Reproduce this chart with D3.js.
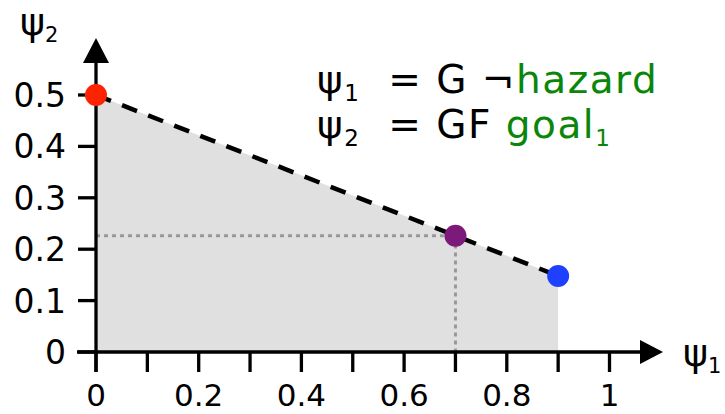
<!DOCTYPE html>
<html>
<head>
<meta charset="utf-8">
<script src="https://cdn.jsdelivr.net/npm/d3@7"></script>
<style>
  body { margin: 0; background: #fff; }
  text { font-family: "DejaVu Sans", sans-serif; }
</style>
</head>
<body>
<div id="chart"></div>
<script>
// Pareto front points (psi1, psi2)
const frontX = [0, 0.9];
const frontY = [0.5, 0.148];
const pointX = [0, 0.7, 0.9];
const pointY = [0.5, 0.226, 0.148];
const pointColors = ["#ff2200", "#7b1a7b", "#2040ff"];
const xTicks = [0, 0.1, 0.2, 0.3, 0.4, 0.5, 0.6, 0.7, 0.8, 0.9, 1];
const xTickLabels = ["0", "", "0.2", "", "0.4", "", "0.6", "", "0.8", "", "1"];
const yTicks = [0, 0.1, 0.2, 0.3, 0.4, 0.5];
const yTickLabels = ["0", "0.1", "0.2", "0.3", "0.4", "0.5"];

const width = 725, height = 414;

const svg = d3.select("#chart").append("svg")
  .attr("width", width)
  .attr("height", height);

// scales
const x = d3.scaleLinear().domain([0, 1]).range([96, 609.5]);
const y = d3.scaleLinear().domain([0, 0.5]).range([352, 95]);

// shaded achievable region
const region = [[0, 0], [frontX[0], frontY[0]], [frontX[1], frontY[1]], [frontX[1], 0]];
svg.append("path")
  .attr("d", d3.line().x(d => x(d[0])).y(d => y(d[1]))(region) + "Z")
  .attr("fill", "#e0e0e0");

// dotted guides to the purple point
svg.append("path")
  .attr("d", d3.line()([[x(0), y(pointY[1])], [x(pointX[1]), y(pointY[1])], [x(pointX[1]), y(0)]]))
  .attr("fill", "none")
  .attr("stroke", "#999")
  .attr("stroke-width", 3)
  .attr("stroke-dasharray", "4,4");

// dashed front
svg.append("line")
  .attr("x1", x(frontX[0])).attr("y1", y(frontY[0]))
  .attr("x2", x(frontX[1])).attr("y2", y(frontY[1]))
  .attr("stroke", "#000")
  .attr("stroke-width", 4.5)
  .attr("stroke-dasharray", "16,12");

// x axis
const xAxis = svg.append("g");
xAxis.append("line")
  .attr("x1", 77).attr("x2", 645)
  .attr("y1", y(0)).attr("y2", y(0))
  .attr("stroke", "#000").attr("stroke-width", 3.3);
xAxis.append("path")
  .attr("d", `M640,${y(0) - 12}L663,${y(0)}L640,${y(0) + 12}Z`)
  .attr("fill", "#000");
xAxis.selectAll(".xtick")
  .data(xTicks)
  .enter()
  .append("line")
  .attr("x1", d => x(d)).attr("x2", d => x(d))
  .attr("y1", y(0)).attr("y2", y(0) + 20)
  .attr("stroke", "#000").attr("stroke-width", 3.3);
xAxis.selectAll(".xlabel")
  .data(xTicks)
  .enter()
  .append("text")
  .attr("x", d => x(d))
  .attr("y", 406)
  .attr("text-anchor", "middle")
  .style("font-size", "31px")
  .text((d, i) => xTickLabels[i]);

// y axis
const yAxis = svg.append("g");
yAxis.append("line")
  .attr("x1", x(0)).attr("x2", x(0))
  .attr("y1", 372).attr("y2", 58)
  .attr("stroke", "#000").attr("stroke-width", 3.3);
yAxis.append("path")
  .attr("d", `M${x(0) - 13},63L${x(0)},38L${x(0) + 13},63Z`)
  .attr("fill", "#000");
yAxis.selectAll(".ytick")
  .data(yTicks)
  .enter()
  .append("line")
  .attr("x1", x(0) - 18).attr("x2", x(0))
  .attr("y1", d => y(d)).attr("y2", d => y(d))
  .attr("stroke", "#000").attr("stroke-width", 3.3);
yAxis.selectAll(".ylabel")
  .data(yTicks)
  .enter()
  .append("text")
  .attr("x", 66)
  .attr("y", d => y(d) + 12)
  .attr("text-anchor", "end")
  .style("font-size", "33px")
  .text((d, i) => yTickLabels[i]);

// points
svg.selectAll(".pt")
  .data(pointX)
  .enter()
  .append("circle")
  .attr("cx", d => x(d))
  .attr("cy", (d, i) => y(pointY[i]))
  .attr("r", 11)
  .attr("fill", (d, i) => pointColors[i]);

// axis titles
const t1 = svg.append("text").attr("x", 683).attr("y", 366).style("font-size", "38px");
t1.append("tspan").text("ψ");
t1.append("tspan").attr("dy", 7).style("font-size", "21px").text("1");

const t2 = svg.append("text").attr("x", 20).attr("y", 35).style("font-size", "38px");
t2.append("tspan").text("ψ");
t2.append("tspan").attr("dy", 7).style("font-size", "21px").text("2");

// formulas
const f1 = svg.append("text").attr("x", 317).attr("y", 93)
  .style("font-size", "39px").style("letter-spacing", "1.5px").attr("xml:space", "preserve");
f1.append("tspan").text("ψ");
f1.append("tspan").attr("dy", 8).style("font-size", "23px").text("1");
f1.append("tspan").attr("dy", -8).text("  = G ¬");
f1.append("tspan").attr("fill", "#0a870a").text("hazard");

const f2 = svg.append("text").attr("x", 317).attr("y", 138)
  .style("font-size", "39px").style("letter-spacing", "1.5px").attr("xml:space", "preserve");
f2.append("tspan").text("ψ");
f2.append("tspan").attr("dy", 8).style("font-size", "23px").text("2");
f2.append("tspan").attr("dy", -8).text("  = GF ");
f2.append("tspan").attr("fill", "#0a870a").text("goal");
f2.append("tspan").attr("dy", 8).attr("fill", "#0a870a").style("font-size", "23px").text("1");
</script>
</body>
</html>
